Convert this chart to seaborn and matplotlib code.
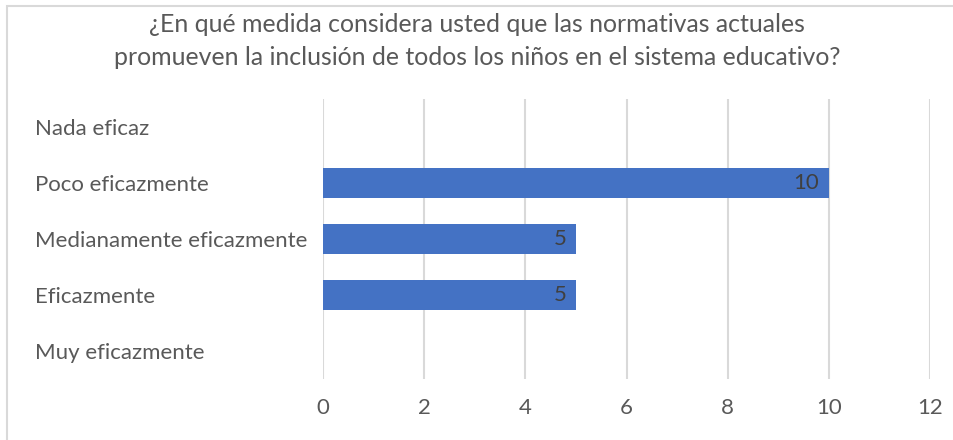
import matplotlib
matplotlib.use("Agg")
import matplotlib.pyplot as plt
import seaborn as sns
import pandas as pd
from matplotlib.patches import Rectangle

categories = ["Nada eficaz", "Poco eficazmente", "Medianamente eficazmente", "Eficazmente", "Muy eficazmente"]
values = [0, 10, 5, 5, 0]
xticks = [0, 2, 4, 6, 8, 10, 12]
title = "¿En qué medida considera usted que las normativas actuales\npromueven la inclusión de todos los niños en el sistema educativo?"

sns.set_theme(style="white")
plt.rcParams['font.family'] = ['Lato', 'DejaVu Sans']

df = pd.DataFrame({"cat": categories, "val": values})

fig = plt.figure(figsize=(9.54, 4.4), dpi=100)
ax = fig.add_axes([323/954, 1-379/440, (930-323)/954, 280/440])

sns.barplot(data=df, y="cat", x="val", order=categories, orient="h",
            color="#4472C4", saturation=1, width=0.53, ax=ax, zorder=3,
            linewidth=0)

ax.set_xlim(0, 12)
ax.set_ylim(4.5, -0.5)
ax.set_xticks(xticks)
ax.set_xticklabels([str(t) for t in xticks])
ax.set_xlabel("")
ax.set_ylabel("")
ax.grid(axis="x", color="#D9D9D9", linewidth=1.5, zorder=0)
ax.grid(axis="y", visible=False)
for s in ax.spines.values():
    s.set_visible(False)

fs = 16
ax.tick_params(axis="x", length=0, pad=14, labelsize=fs, labelcolor="#595959")
ax.tick_params(axis="y", length=0, pad=(323-35)*0.72, labelsize=fs, labelcolor="#595959")
for lbl in ax.get_yticklabels():
    lbl.set_horizontalalignment("left")

for i, v in enumerate(values):
    if v > 0:
        ax.annotate(str(v), xy=(v, i), xytext=(-7, 0), textcoords="offset points",
                    ha="right", va="center", fontsize=fs, color="#404040", zorder=4)

fig.text(477/954, 1-41/440, title, ha="center", va="center", fontsize=17.9,
         color="#595959", linespacing=1.52)

fig.patches.append(Rectangle((7/954, -0.1), 1.2, 1 - 6/440 + 0.1, transform=fig.transFigure,
                             fill=False, edgecolor="#D9D9D9", linewidth=1.5))

fig.savefig("out.png", dpi=100)
